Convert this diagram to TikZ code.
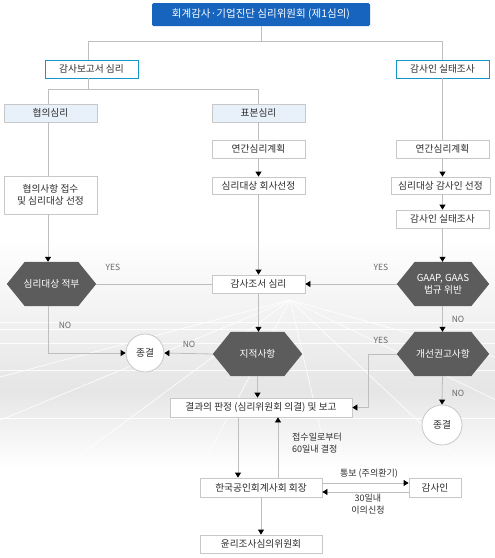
\documentclass[tikz,border=0pt]{standalone}
\usepackage{fontspec}
\setmainfont{Noto Sans CJK KR}
\usepackage{tikz}
\usetikzlibrary{arrows.meta, calc, backgrounds}
\definecolor{titleblue}{RGB}{22,100,190}
\definecolor{bordercyan}{RGB}{20,150,200}
\definecolor{boxgray}{RGB}{200,200,200}
\definecolor{linegray}{RGB}{190,190,190}
\definecolor{hexgray}{RGB}{92,92,92}
\definecolor{paleblue}{RGB}{232,240,250}
\definecolor{textdark}{RGB}{45,45,45}
\definecolor{labelgray}{RGB}{105,105,105}
\tikzset{
  box/.style={rectangle, draw=boxgray, fill=white, line width=0.8pt,
              minimum width=93pt, minimum height=18pt, inner sep=1pt,
              align=center, text=textdark, font=\fontsize{9.7}{12}\selectfont},
  headbox/.style={box, draw=bordercyan},
  typebox/.style={box, fill=paleblue},
  titlebox/.style={rectangle, rounded corners=1.5pt, fill=titleblue,
                   minimum width=218pt, minimum height=23pt, text=white,
                   font=\fontsize{10.5}{12}\selectfont},
  decision/.style={rectangle, minimum width=89pt, minimum height=44pt,
                   inner sep=0pt, align=center, text=white,
                   font=\fontsize{9.7}{12}\selectfont},
  endnode/.style={circle, draw=boxgray, fill=white, line width=0.8pt,
                  minimum size=38pt, inner sep=0pt, text=textdark,
                  font=\fontsize{9.7}{12}\selectfont},
  lbl/.style={text=labelgray, inner sep=0pt, font=\fontsize{8.5}{10}\selectfont},
  note/.style={text=textdark, inner sep=0pt, align=left,
               font=\fontsize{9}{12}\selectfont},
  conn/.style={draw=linegray, line width=0.8pt},
  arr/.style={conn, -{Triangle[length=5pt, width=6pt, color=black]}},
  floor/.style={white, line width=0.7pt, opacity=0.9},
}

\begin{document}
\begin{tikzpicture}[x=1pt, y=-1pt]
  \useasboundingbox (0,0) rectangle (495,558);
  \begin{scope}[on background layer]
    \fill[top color=white, bottom color=black!10] (0,238) rectangle (495,390);
    \fill[top color=black!10, bottom color=white] (0,390) rectangle (495,468);
    \begin{scope}
      \clip (0,300) rectangle (495,462);
      \foreach \y in {322, 329, 343, 370, 418}
        \draw[floor] (0,\y) -- (495,\y);
      \foreach \x in {-350, -120, 60, 200, 330, 470, 640, 900}
        \draw[floor] (290,300) -- (\x,470);
    \end{scope}
  \end{scope}

  % top levels
  \node[titlebox] (title) at (261,14.5) {회계감사·기업진단 심리위원회 (제1심의)};
  \node[headbox] (reportrev) at (91.5,69) {감사보고서 심리};
  \node[headbox] (fieldrev) at (442.5,69) {감사인 실태조사};
  \node[typebox] (consult) at (50.5,113) {협의심리};
  \node[typebox] (sample) at (258.5,113) {표본심리};

  % left and middle column
  \node[box, minimum height=38pt] (consultrecv) at (50.5,195) {협의사항 접수\\및 심리대상 선정};
  \node[box] (plana) at (258.5,149) {연간심리계획};
  \node[box, minimum height=17pt] (selecta) at (258.5,185.5) {심리대상 회사선정};
  \node[decision] (eligible) at (51.5,284) {심리대상 적부};
  \node[box] (workpaper) at (258.5,284) {감사조서 심리};
  \node[decision] (finding) at (257.5,354) {지적사항};
  \node[endnode] (endA) at (145,353) {종결};

  % right column
  \node[box] (planb) at (442.5,149) {연간심리계획};
  \node[box, minimum width=99pt, minimum height=17pt] (selectb) at (440.5,185.5) {심리대상 감사인 선정};
  \node[box] (survey) at (442.5,219) {감사인 실태조사};
  \node[decision, minimum width=92pt] (violation) at (443,284) {GAAP, GAAS\\법규 위반};
  \node[decision, minimum width=92pt] (recommend) at (443,354) {개선권고사항};
  \node[endnode, minimum size=40pt] (endB) at (442,425) {종결};

  % bottom
  \node[box, minimum width=182pt, minimum height=19pt] (result) at (261,407.5) {결과의 판정 (심리위원회 의결) 및 보고};
  \node[box, minimum width=122pt, minimum height=19pt] (kicpa) at (261,487.5) {한국공인회계사회 회장};
  \node[box, minimum width=52pt, minimum height=19pt] (auditor) at (435,487.5) {감사인};
  \node[box, minimum width=122pt] (ethics) at (261,544) {윤리조사심의위원회};

  \begin{scope}[on background layer]
    \foreach \h in {eligible, finding, violation, recommend}
      \fill[hexgray] (\h.west) -- ($(\h.north west)+(18,0)$) -- ($(\h.north east)+(-18,0)$)
        -- (\h.east) -- ($(\h.south east)+(-18,0)$) -- ($(\h.south west)+(18,0)$) -- cycle;
  \end{scope}

  % tree lines
  \draw[conn] (title.south) -- ++(0,15) coordinate (splitA);
  \draw[conn] (reportrev.north -| 88,0) |- (splitA) -| (fieldrev.north);
  \draw[conn] (reportrev.south -| 88,0) -- ++(0,11) coordinate (splitB);
  \draw[conn] (consult.north -| 48,0) |- (splitB) -| (sample.north);
  \draw[conn] (consult.south -| 48,0) -- (consultrecv.north -| 48,0);
  \draw[conn] (sample.south) -- (plana.north);
  \draw[conn] (fieldrev.south) -- (planb.north);

  % flow
  \draw[arr] (consultrecv.south -| 48,0) -- (eligible.north -| 48,0);
  \draw[arr] (plana) -- (selecta);
  \draw[arr] (selecta) -- (workpaper);
  \draw[arr] (planb) -- (planb |- selectb.north);
  \draw[arr] (planb |- selectb.south) -- (survey);
  \draw[arr] (survey) -- (survey |- violation.north);
  \draw[conn] (eligible.east) -- (workpaper.west);
  \draw[arr] (violation.west) -- (workpaper.east);
  \draw[arr] (eligible.south -| 48,0) |- (endA.west);
  \draw[arr] (workpaper.south) -- (workpaper.south |- finding.north);
  \draw[arr] (finding.west) -- (endA.east);
  \draw[arr] (survey |- violation.south) -- (survey |- recommend.north);
  \draw[arr] (survey |- recommend.south) -- (endB.north);
  \draw[arr] (recommend.west) -- ++(-28,0) |- (result.east);
  \draw[arr] (finding.south) -- (finding.south |- result.north);
  \draw[arr] ([xshift=-23pt]result.south) -- ([xshift=-23pt]kicpa.north);
  \draw[arr] ([xshift=17pt]kicpa.north) -- ([xshift=17pt]result.south);
  \draw[arr] ([yshift=4.5pt]kicpa.east) -- ([yshift=4.5pt]auditor.west);
  \draw[arr] ([yshift=-4.5pt]auditor.west) -- ([yshift=-4.5pt]kicpa.east);
  \draw[arr] (kicpa.south) -- (ethics.north);

  % labels
  \node[lbl] (yesA) at (113,267) {YES};
  \node[lbl] (yesB) at (381,267) {YES};
  \node[lbl] (noA) at (65,325) {NO};
  \node[lbl] (noB) at (189,344) {NO};
  \node[lbl] (noC) at (458,319) {NO};
  \node[lbl] (yesC) at (381,340) {YES};
  \node[lbl] (noD) at (458,393) {NO};
  \node[note, anchor=north west] (deadline) at (292,433) {접수일로부터\\60일내 결정};
  \node[note] (notify) at (369,474) {통보 (주의환기)};
  \node[note, align=center, anchor=north] (objection) at (368,494) {30일내\\이의신청};
\end{tikzpicture}
\end{document}
